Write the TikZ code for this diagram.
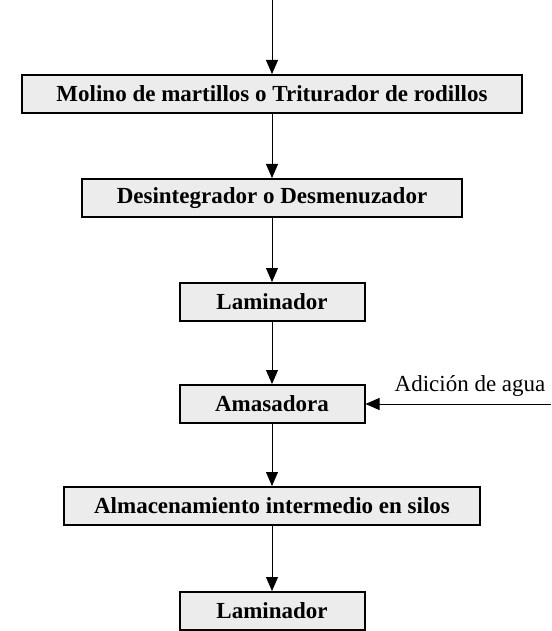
\documentclass[tikz,border=0pt]{standalone}
\usepackage{fontspec}
\setmainfont{Liberation Serif}
\newfontfamily\cajafont{Liberation Serif Bold}
\usetikzlibrary{arrows.meta,positioning}
\tikzset{
    etapa/.style={draw, line width=2pt, fill=gray!15, minimum height=38pt, inner sep=2pt,
        font=\cajafont\fontsize{23}{25}\selectfont},
    flujo/.style={-{Triangle[length=14pt,width=12pt]}, line width=0.9pt}
}

\begin{document}
\begin{tikzpicture}[x=1pt, y=-1pt]
    \useasboundingbox (0,0) rectangle (551,631);
    \coordinate (entrada) at (272,0);
    \node[etapa, minimum width=500pt] (molino) at (272,94) {Molino de martillos o Triturador de rodillos};
    \node[etapa, minimum width=380pt] (desintegrador) at (272,198) {Desintegrador o Desmenuzador};
    \node[etapa, minimum width=185pt] (laminadorA) at (272,302) {Laminador};
    \node[etapa, minimum width=185pt] (amasadora) at (272,404) {Amasadora};
    \node[etapa, minimum width=416pt] (almacen) at (272,506) {Almacenamiento intermedio en silos};
    \node[etapa, minimum width=185pt] (laminadorB) at (272,611) {Laminador};
    \coordinate (agua) at (551,404);
    \node[font=\fontsize{23}{25}\selectfont] (aguatxt) at (470,386) {Adición de agua};
    % flujo principal
    \draw[flujo] (entrada) -- (molino);
    \draw[flujo] (molino) -- (desintegrador);
    \draw[flujo] (desintegrador) -- (laminadorA);
    \draw[flujo] (laminadorA) -- (amasadora);
    \draw[flujo] (amasadora) -- (almacen);
    \draw[flujo] (almacen) -- (laminadorB);
    \draw[flujo] (agua) -- (amasadora);
\end{tikzpicture}
\end{document}
